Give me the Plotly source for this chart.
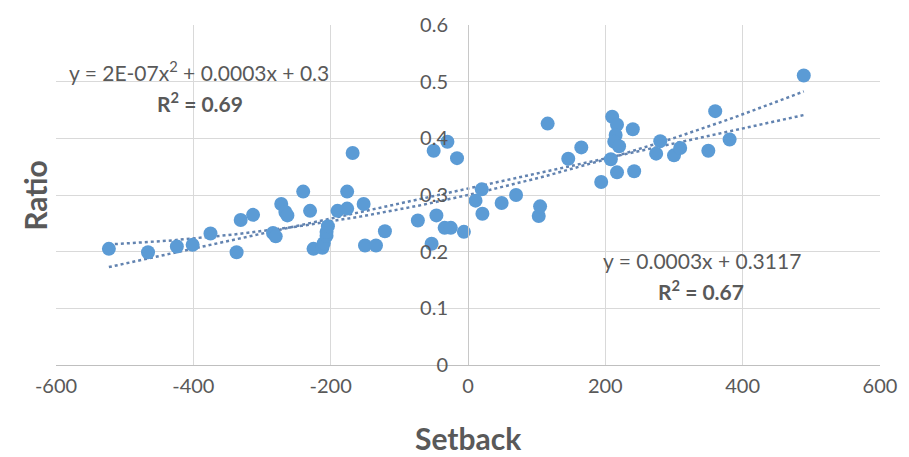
import numpy as np
import plotly.graph_objects as go

# Data
setback = [-523, -466, -424, -401, -375, -337, -331, -313, -284, -280, -272, -266, -263,
           -240, -230, -225, -212, -210, -206, -206, -204, -190, -176, -176, -168, -152,
           -150, -134, -121, -73, -53, -50, -46, -30, -34, -25, -16, -6, 11, 20, 21, 49,
           70, 103, 105, 116, 146, 165, 194, 208, 210, 217, 215, 213, 220, 217, 242, 240,
           274, 280, 300, 309, 350, 360, 381, 489]
ratio = [0.205, 0.199, 0.209, 0.212, 0.232, 0.199, 0.256, 0.265, 0.233, 0.227, 0.284, 0.270,
         0.264, 0.306, 0.272, 0.205, 0.207, 0.215, 0.228, 0.235, 0.245, 0.272, 0.276, 0.306,
         0.374, 0.284, 0.211, 0.211, 0.236, 0.255, 0.214, 0.378, 0.264, 0.394, 0.242, 0.242,
         0.365, 0.235, 0.290, 0.310, 0.267, 0.286, 0.300, 0.263, 0.280, 0.426, 0.364, 0.384,
         0.323, 0.363, 0.438, 0.424, 0.406, 0.394, 0.386, 0.340, 0.342, 0.416, 0.373, 0.395,
         0.370, 0.383, 0.378, 0.448, 0.398, 0.511]

x_ticks = [-600, -400, -200, 0, 200, 400, 600]
y_ticks = [0, 0.1, 0.2, 0.3, 0.4, 0.5, 0.6]

quad_label = "y = 2E-07x<sup>2</sup> + 0.0003x + 0.3"
quad_r2 = "<b>R<sup>2</sup> = 0.69</b>"
lin_label = "y = 0.0003x + 0.3117"
lin_r2 = "<b>R<sup>2</sup> = 0.67</b>"

xs = np.array(setback, dtype=float)
ys = np.array(ratio, dtype=float)
xf = np.linspace(xs.min(), xs.max(), 120)
quad = np.polyval(np.polyfit(xs, ys, 2), xf)
lin = np.polyval(np.polyfit(xs, ys, 1), xf)

FONT = "Lato"
GRAY = "#595959"
BLUE = "#5b9bd5"
TREND = "#6283b0"

fig = go.Figure()
fig.add_trace(go.Scatter(x=xf, y=quad, mode="lines",
                         line=dict(color=TREND, width=2.5, dash="dot"), hoverinfo="skip"))
fig.add_trace(go.Scatter(x=xf, y=lin, mode="lines",
                         line=dict(color=TREND, width=2.5, dash="dot"), hoverinfo="skip"))
fig.add_trace(go.Scatter(x=setback, y=ratio, mode="markers",
                         marker=dict(color=BLUE, size=14, line=dict(width=0))))

fig.update_layout(
    width=909, height=457,
    margin=dict(l=56, r=20, t=18, b=92),
    paper_bgcolor="white", plot_bgcolor="white",
    showlegend=False,
    font=dict(family=FONT, color=GRAY, size=20),
    xaxis=dict(range=[-600, 600], tickvals=x_ticks, ticktext=[str(v) for v in x_ticks],
               showgrid=True, gridcolor="#d9d9d9", gridwidth=1,
               zeroline=False, showline=True, linecolor="#bfbfbf", linewidth=1,
               ticks="", ticklabelstandoff=3, tickfont=dict(size=20, color=GRAY),
               mirror=False),
    yaxis=dict(range=[0, 0.6], tickvals=y_ticks, ticktext=[("%g" % v) for v in y_ticks],
               showgrid=True, gridcolor="#d9d9d9", gridwidth=1,
               zeroline=False, showline=True, linecolor="#c8c8c8", linewidth=1,
               anchor="free", position=0.5, ticks="", ticklabelstandoff=16,
               tickfont=dict(size=20, color=GRAY)),
)

fig.add_annotation(text="Ratio", xref="paper", yref="paper", x=-0.05, y=0.5,
                   textangle=-90, showarrow=False,
                   font=dict(family=FONT, size=30, color=GRAY, weight="bold"))
fig.add_annotation(text="Setback", xref="paper", yref="paper", x=0.5, y=-0.216,
                   xanchor="center", yanchor="middle", showarrow=False,
                   font=dict(family=FONT, size=30, color=GRAY, weight="bold"))
fig.add_annotation(text=quad_label, x=-392, y=0.519, showarrow=False,
                   font=dict(family=FONT, size=21, color=GRAY))
fig.add_annotation(text=quad_r2, x=-390, y=0.465, showarrow=False,
                   font=dict(family=FONT, size=21, color=GRAY))
fig.add_annotation(text=lin_label, x=341, y=0.185, showarrow=False,
                   font=dict(family=FONT, size=21, color=GRAY))
fig.add_annotation(text=lin_r2, x=340, y=0.133, showarrow=False,
                   font=dict(family=FONT, size=21, color=GRAY))

fig.write_html("out.html")
